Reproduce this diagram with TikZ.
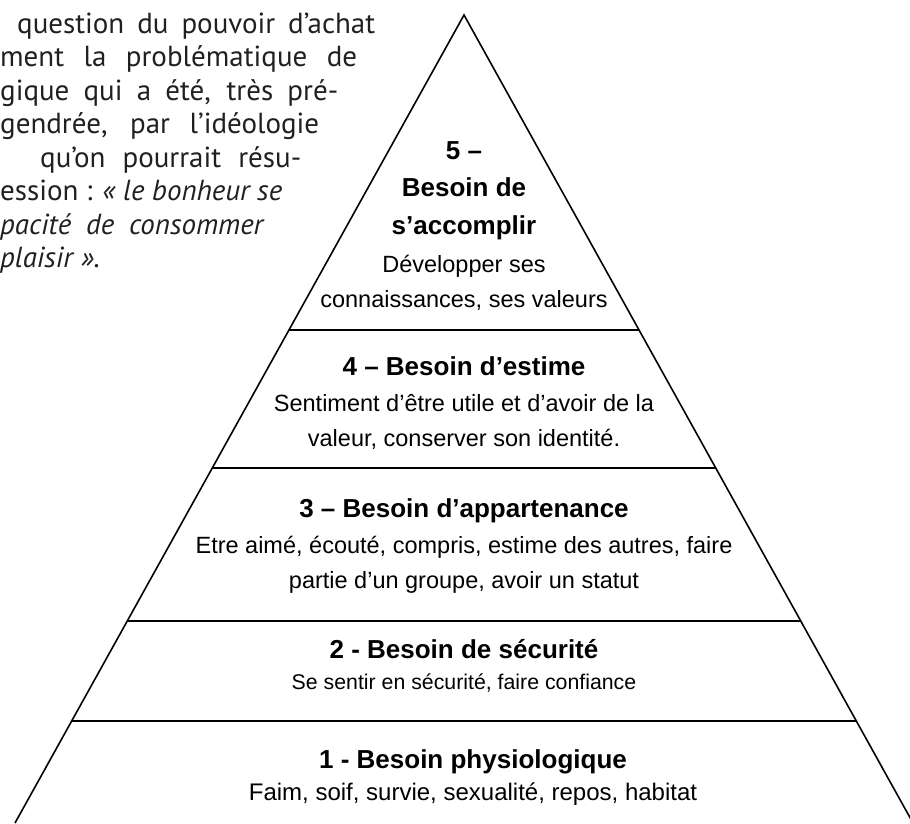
\documentclass[tikz,border=0pt]{standalone}
\usepackage{fontspec}
\setmainfont{Liberation Sans}
\newfontfamily\parafont{PT Sans}
\usetikzlibrary{positioning,calc}

\definecolor{inkgray}{HTML}{231F20}

\tikzset{
  lvltitle/.style={font=\bfseries\fontsize{26}{37.5}\selectfont,align=center,inner sep=0pt,anchor=north},
  lvldesc/.style={font=\fontsize{23.5}{35}\selectfont,align=center,inner sep=0pt,anchor=north},
  paraline/.style={font=\parafont\fontsize{29}{33.5}\selectfont,text=inkgray,inner sep=0pt,anchor=base west},
  side/.style={line width=1.6pt},
  divider/.style={line width=2pt}
}

\begin{document}
\begin{tikzpicture}[x=1pt,y=-1pt]
  \useasboundingbox (0,0) rectangle (910,823);
  \clip (0,0) rectangle (910,823);
  % Pyramid outline
  \coordinate (apex) at (464,15);
  \coordinate (bl) at (15,823);
  \coordinate (br) at (913,823);
  \draw[side] (bl) -- (apex) -- (br);
  % Floors of the pyramid
  \foreach \y in {330,468,621,721} {
    \pgfmathsetmacro{\t}{(\y-15)/808}
    \draw[divider] ($(apex)!\t!(bl)$) -- ($(apex)!\t!(br)$);
  }
  % Levels
  \node[lvltitle] (t5) at (464,141.2) {5 –\\Besoin de\\s’accomplir};
  \node[lvldesc] (d5) at (464,255) {Développer ses\\connaissances, ses valeurs};
  \node[lvltitle] (t4) at (464,356.2) {4 – Besoin d’estime};
  \node[lvldesc] (d4) at (464,394) {Sentiment d’être utile et d’avoir de la\\valeur, conserver son identité.};
  \node[lvltitle] (t3) at (464,498.2) {3 – Besoin d’appartenance};
  \node[lvldesc] (d3) at (464,536) {Etre aimé, écouté, compris, estime des autres, faire\\partie d’un groupe, avoir un statut};
  \node[lvltitle] (t2) at (464,639.2) {2 - Besoin de sécurité};
  \node[lvldesc,font=\fontsize{21.3}{30}\selectfont] (d2) at (464,674) {Se sentir en sécurité, faire confiance};
  \node[lvltitle] (t1) at (473,749.2) {1 - Besoin physiologique};
  \node[lvldesc,font=\fontsize{24}{34}\selectfont] (d1) at (473,783) {Faim, soif, survie, sexualité, repos, habitat};
  % Running text on the left
  \node[paraline] (p1) at (17,33) {\makebox[358pt][s]{question du pouvoir d’achat}};
  \node[paraline] (p2) at (0,66.5) {\makebox[357pt][s]{ment la problématique de}};
  \node[paraline] (p3) at (0,100) {\makebox[338pt][s]{gique qui a été, très pré-}};
  \node[paraline] (p4) at (0,133.5) {\makebox[319pt][s]{gendrée, par l’idéologie}};
  \node[paraline] (p5) at (40,167) {\makebox[261pt][s]{qu’on pourrait résu-}};
  \node[paraline] (p6) at (0,200.5) {\makebox[282pt][s]{ession : \itshape «~le bonheur se}};
  \node[paraline] (p7) at (0,234) {\makebox[263pt][s]{\itshape pacité de consommer}};
  \node[paraline] (p8) at (0,267.5) {\itshape plaisir~».};
\end{tikzpicture}
\end{document}
